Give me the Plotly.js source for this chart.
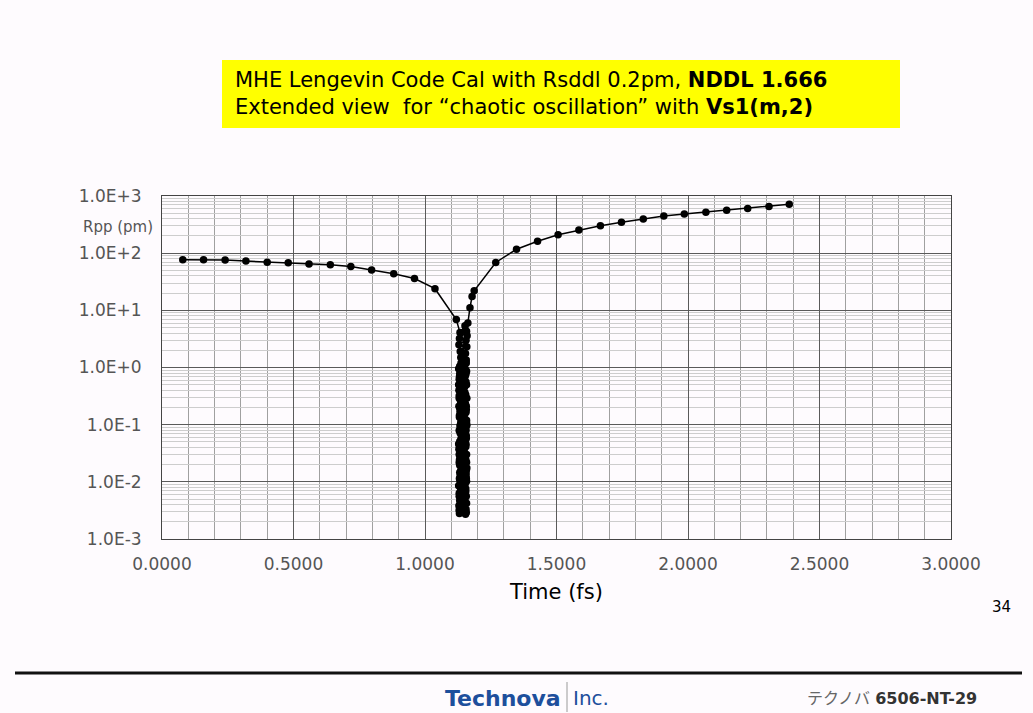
<!DOCTYPE html>
<html>
<head>
<meta charset="utf-8">
<script src="https://cdn.plot.ly/plotly-3.0.1.min.js"></script>
<style>
html,body{margin:0;padding:0;background:#fefbfe;}
#chart{width:1033px;height:713px;}
</style>
</head>
<body>
<div id="chart"></div>
<script>
// Left (decaying) branch
const timeLeft = [0.079,0.158,0.240,0.319,0.400,0.480,0.559,0.640,0.718,0.797,0.881,0.960,1.038,1.119];
const rppLeft  = [76.5,76.5,76.0,72.6,69.7,67.8,64.4,63.0,58.5,50.6,43.6,36.1,23.9,6.9];

// Chaotic oscillation band (dense cluster near t = 1.13 - 1.16 fs)
const timeBand = [1.133,1.152,1.129,1.156,1.136,1.158,1.131,1.154,1.128,1.159,1.134,1.151,1.130,1.157,1.137,1.153,
  1.129,1.158,1.132,1.150,1.135,1.156,1.128,1.159,1.133,1.152,1.130,1.157,1.136,1.154,1.129,1.158,
  1.134,1.151,1.131,1.156,1.128,1.159,1.135,1.153,1.130,1.157,1.137,1.150,1.132,1.155,1.129,1.158,
  1.134,1.152,1.131,1.156,1.128,1.159,1.136,1.153,1.130,1.157,1.133,1.151,1.129,1.155,1.135,1.158,
  1.131,1.152,1.134,1.157,1.130,1.154,1.137,
  1.144,1.142,1.146,1.143,1.145,1.141,1.147,1.144,1.142,1.146,1.143,1.145,1.141,1.144,1.147,1.142,
  1.145,1.143,1.146,1.141,1.144,1.142,1.147,1.145,1.143,1.146,1.141,1.144,1.142,1.145,1.147,1.143,
  1.146,1.144,1.142,1.145,1.143,1.146,
  1.131,1.156,1.132,1.157,1.130,1.155,1.133,1.158,1.131,1.156,1.132,1.157,1.130,1.155,1.133,1.158,
  1.131,1.156,1.132,1.157,1.130,1.155,1.133,1.158,1.131,1.156,1.132,1.157,1.130,1.155,1.133,1.158,
  1.131,1.156,1.132,1.157,
  1.155,1.160,1.163];
const rppBand  = [4.1,5.4,2.5,3.0,1.5,4.3,3.2,1.75,0.95,2.3,1.9,1.08,0.62,1.35,1.2,0.70,
  0.40,0.86,0.78,0.45,0.26,0.56,0.50,0.29,0.17,0.36,0.32,0.185,0.11,0.23,0.21,0.12,
  0.071,0.15,0.135,0.079,0.046,0.098,0.088,0.051,0.030,0.064,0.057,0.033,0.0195,0.041,0.037,0.022,
  0.0128,0.027,0.024,0.0142,0.0085,0.0175,0.0158,0.0093,0.0056,0.0115,0.0104,0.0062,0.0038,0.0076,0.0069,0.0042,
  0.0028,0.0051,0.0046,0.0029,0.0032,0.0027,0.0035,
  0.0030,0.0044,0.0036,0.0061,0.0053,0.0082,0.0071,0.0110,0.0095,0.0150,0.0128,0.0205,0.0175,0.0280,0.0240,0.0380,
  0.0330,0.0520,0.0450,0.0700,0.0610,0.0950,0.0830,0.1300,0.1120,0.1750,0.1520,0.2400,0.2050,0.3300,0.2800,0.4500,
  0.3800,0.6100,0.5200,0.8300,0.7100,1.1000,
  0.0031,0.0033,0.0047,0.0056,0.0063,0.0068,0.0089,0.0102,0.0114,0.0126,0.0145,0.0160,0.0215,0.0245,0.0265,0.0300,
  0.0405,0.0455,0.0510,0.0570,0.0790,0.0880,0.0960,0.1080,0.1450,0.1650,0.1950,0.2100,0.2900,0.3300,0.4400,0.5000,
  0.6900,0.7800,1.0500,1.2000,
  0.9,3.6,6.0];

// Right (rising) branch
const timeRight = [1.171,1.179,1.187,1.269,1.348,1.428,1.506,1.585,1.667,1.747,1.830,1.908,1.986,2.068,2.147,2.227,2.308,2.385];
const rppRight  = [11.1,17.5,22.0,68.7,117,162,210,254,302,346,395,446,482,522,566,607,657,720];

// Axis ticks
const xTickVals = [0,0.5,1.0,1.5,2.0,2.5,3.0];
const xTickText = ["0.0000","0.5000","1.0000","1.5000","2.0000","2.5000","3.0000"];
const yTickVals = [0.001,0.01,0.1,1,10,100,1000];
const yTickText = ["1.0E-3","1.0E-2","1.0E-1","1.0E+0","1.0E+1","1.0E+2","1.0E+3"];

const timeAll = timeLeft.concat(timeBand, timeRight);
const rppAll = rppLeft.concat(rppBand, rppRight);

const FONT = "DejaVu Sans, Liberation Sans, Arial, sans-serif";
const L = 162, R = 951, T = 196, B = 539;
const px = v => (v - L) / (R - L);
const py = v => (B - v) / (B - T);

const trace = {
  x: timeAll, y: rppAll, type: 'scatter', mode: 'lines+markers',
  line: {color: '#000', width: 1.5},
  marker: {color: '#000', size: 7.5},
  hoverinfo: 'x+y', showlegend: false
};

const layout = {
  width: 1033, height: 713,
  paper_bgcolor: '#fefbfe', plot_bgcolor: '#fefbfe',
  margin: {l: L, r: 1033 - R, t: T, b: 713 - B, pad: 0},
  font: {family: FONT, color: '#555'},
  xaxis: {
    type: 'linear', range: [0, 3], tickmode: 'array', tickvals: xTickVals, ticktext: xTickText,
    tickfont: {family: FONT, size: 17, color: '#555'},
    ticks: 'outside', ticklen: 10, tickcolor: 'rgba(0,0,0,0)',
    showgrid: true, gridcolor: '#5a5a5a', gridwidth: 1,
    minor: {dtick: 0.1, showgrid: true, gridcolor: '#a0a0a0', gridwidth: 1, ticks: ''},
    showline: true, linecolor: '#444', linewidth: 1, mirror: true, zeroline: false,
    title: {text: 'Time (fs)', font: {family: FONT, size: 21, color: '#000'}, standoff: 10}
  },
  yaxis: {
    type: 'log', range: [-3, 3], tickmode: 'array', tickvals: yTickVals, ticktext: yTickText,
    tickfont: {family: FONT, size: 17, color: '#555'},
    ticks: 'outside', ticklen: 16, tickcolor: 'rgba(0,0,0,0)',
    showgrid: true, gridcolor: '#5a5a5a', gridwidth: 1,
    minor: {dtick: 'D1', showgrid: true, gridcolor: '#cdcdcd', gridwidth: 1, ticks: ''},
    showline: true, linecolor: '#444', linewidth: 1, mirror: true, zeroline: false
  },
  shapes: [
    {type: 'rect', xref: 'paper', yref: 'paper', x0: px(222), x1: px(900), y0: py(128), y1: py(60),
     fillcolor: '#ffff00', line: {width: 0}},
    {type: 'line', xref: 'paper', yref: 'paper', x0: px(15), x1: px(1022), y0: py(673), y1: py(673),
     line: {color: '#111', width: 3}},
    {type: 'line', xref: 'paper', yref: 'paper', x0: px(567), x1: px(567), y0: py(682), y1: py(712),
     line: {color: '#9a9a9a', width: 1}}
  ],
  annotations: [
    {xref: 'paper', yref: 'paper', x: px(233), y: py(94), xanchor: 'left', yanchor: 'middle', align: 'left',
     showarrow: false, font: {family: FONT, size: 21, color: '#000'},
     text: 'MHE Lengevin Code Cal with Rsddl 0.2pm, <b>NDDL 1.666</b><br>Extended view  for \u201cchaotic oscillation\u201d with <b>Vs1(m,2)</b>'},
    {xref: 'paper', yref: 'paper', x: px(118), y: py(227), xanchor: 'center', yanchor: 'middle',
     showarrow: false, font: {family: FONT, size: 15, color: '#555'}, text: 'Rpp (pm)'},
    {xref: 'paper', yref: 'paper', x: px(1001), y: py(607), xanchor: 'center', yanchor: 'middle',
     showarrow: false, font: {family: FONT, size: 15, color: '#000'}, text: '34'},
    {xref: 'paper', yref: 'paper', x: px(563), y: py(698), xanchor: 'right', yanchor: 'middle',
     showarrow: false, font: {family: "DejaVu Sans", size: 22, color: '#1d4f9c'}, text: '<b>Technova</b>'},
    {xref: 'paper', yref: 'paper', x: px(571), y: py(698), xanchor: 'left', yanchor: 'middle',
     showarrow: false, font: {family: "DejaVu Sans", size: 20, color: '#1d4f9c'}, text: 'Inc.'},
    {xref: 'paper', yref: 'paper', x: px(805), y: py(698), xanchor: 'left', yanchor: 'middle',
     showarrow: false, font: {family: "DejaVu Sans, Noto Sans CJK JP", size: 16, color: '#333'},
     text: '<span style="color:#666">テクノバ</span> <b>6506-NT-29</b>'}
  ]
};

Plotly.newPlot('chart', [trace], layout, {displayModeBar: false, staticPlot: true});
</script>
</body>
</html>
